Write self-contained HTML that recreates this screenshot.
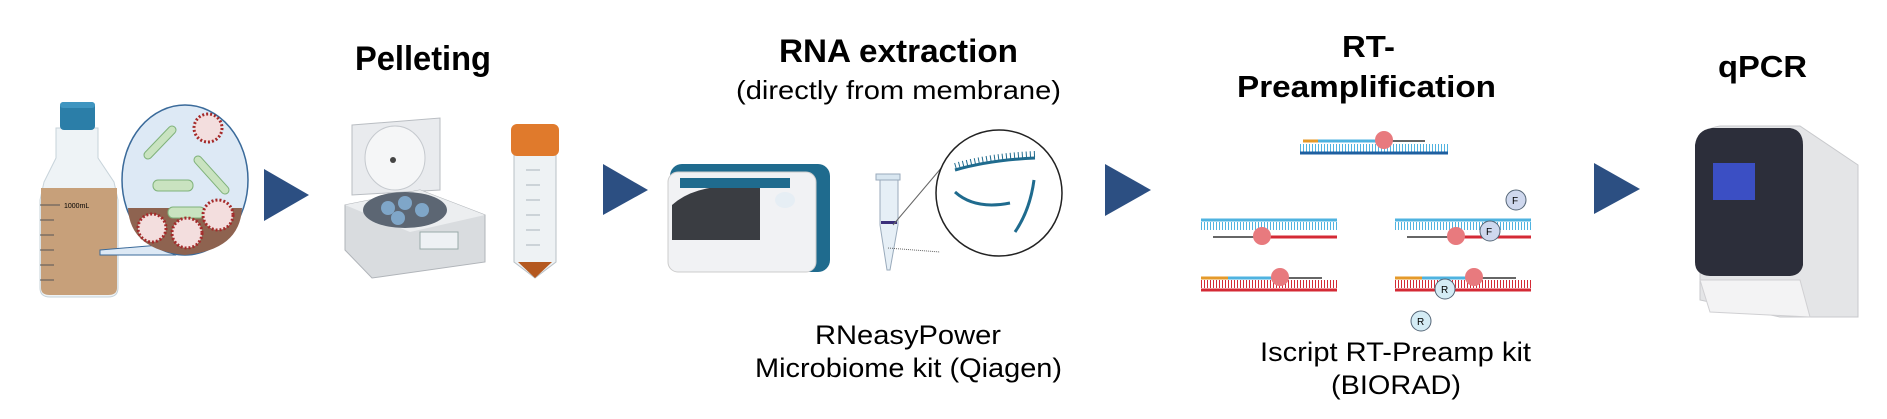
<!DOCTYPE html>
<html><head><meta charset="utf-8"><style>
html,body{margin:0;padding:0;background:#fff;}
svg{display:block;}
text{font-family:"Liberation Sans",sans-serif;fill:#000;}
.b{font-weight:bold;}
</style></head><body>
<svg width="1887" height="419" viewBox="0 0 1887 419">
<g fill="#2c4f82">
<polygon points="264,169 309,195 264,221"/>
<polygon points="603,164 648,190 603,215"/>
<polygon points="1105,164 1151,190 1105,216"/>
<polygon points="1594,163 1640,189 1594,214"/>
</g>
<g>
<path d="M56,128 L98,128 L98,158 L114,182 L118,200 L118,288 Q118,297 108,297 L50,297 Q40,297 40,288 L40,200 L44,182 L56,158 Z" fill="#eef3f6" stroke="#c7d3da"/>
<path d="M41,188 L117,188 L117,288 Q117,295 108,295 L50,295 Q41,295 41,288 Z" fill="#c7a07a"/>
<rect x="60" y="102" width="35" height="28" rx="4" fill="#2b7ea8"/>
<rect x="60" y="102" width="35" height="6" rx="3" fill="#3f95c0"/>
<g stroke="#555" stroke-width="1"><line x1="40" y1="205" x2="60" y2="205"/><line x1="40" y1="220" x2="54" y2="220"/><line x1="40" y1="235" x2="54" y2="235"/><line x1="40" y1="250" x2="54" y2="250"/><line x1="40" y1="265" x2="54" y2="265"/><line x1="40" y1="280" x2="54" y2="280"/></g>
<text x="64" y="208" font-size="7" fill="#333">1000mL</text>
</g>
<g>
<polygon points="100,250 160,245 175,255 100,255" fill="#dde9f5" stroke="#3a6a9a"/>
<ellipse cx="185" cy="180" rx="63" ry="75" fill="#dde9f5" stroke="#3a6a9a" stroke-width="1.5"/>
<path d="M128,208 L242,208 Q240,250 185,255 Q130,250 128,208 Z" fill="#8e6350"/>
<rect x="153" y="180" width="40" height="11" rx="5" fill="#c9e3c0" stroke="#7fb27a"/>
<rect x="168" y="207" width="37" height="11" rx="5" fill="#c9e3c0" stroke="#7fb27a"/>
<line x1="148" y1="155" x2="172" y2="130" stroke="#7fb27a" stroke-width="9" stroke-linecap="round"/>
<line x1="148" y1="155" x2="172" y2="130" stroke="#c9e3c0" stroke-width="7" stroke-linecap="round"/>
<line x1="198" y1="160" x2="225" y2="190" stroke="#7fb27a" stroke-width="9" stroke-linecap="round"/>
<line x1="198" y1="160" x2="225" y2="190" stroke="#c9e3c0" stroke-width="7" stroke-linecap="round"/>
<g fill="#f3dede" stroke="#a52a2a" stroke-width="3" stroke-dasharray="2 2">
<circle cx="208" cy="128" r="14"/><circle cx="152" cy="228" r="14"/><circle cx="218" cy="215" r="15"/><circle cx="187" cy="233" r="15"/>
</g>
</g>
<g>
<path d="M352,125 L440,118 L440,190 L352,195 Z" fill="#e9ebee" stroke="#b9bdc2"/>
<ellipse cx="395" cy="158" rx="30" ry="32" fill="#f5f6f7" stroke="#c5c9ce"/>
<circle cx="393" cy="160" r="3" fill="#444"/>
<path d="M345,205 L420,190 L485,215 L485,262 L372,278 L345,250 Z" fill="#d9dcdf" stroke="#b0b4b9"/>
<path d="M345,205 L420,190 L485,215 L410,232 Z" fill="#eceef0"/>
<ellipse cx="405" cy="210" rx="42" ry="18" fill="#5c6673"/>
<g fill="#7fa6c8"><circle cx="388" cy="208" r="7"/><circle cx="405" cy="203" r="7"/><circle cx="422" cy="210" r="7"/><circle cx="398" cy="218" r="7"/></g>
<rect x="420" y="232" width="38" height="17" fill="#eef1f4" stroke="#9aa"/>
</g>
<g>
<path d="M514,152 L556,152 L556,262 L535,278 L514,262 Z" fill="#eef2f4" stroke="#b8c0c6"/>
<path d="M518,262 L552,262 L535,278 Z" fill="#b4581f"/>
<rect x="511" y="124" width="48" height="32" rx="6" fill="#e07a2c"/>
<g stroke="#aab4bc" stroke-width="1"><line x1="526" y1="170" x2="540" y2="170"/><line x1="526" y1="185" x2="540" y2="185"/><line x1="526" y1="200" x2="540" y2="200"/><line x1="526" y1="215" x2="540" y2="215"/><line x1="526" y1="230" x2="540" y2="230"/><line x1="526" y1="245" x2="540" y2="245"/></g>
</g>
<g>
<rect x="670" y="164" width="160" height="108" rx="12" fill="#1f6b8e"/>
<rect x="668" y="172" width="148" height="100" rx="10" fill="#f1f2f4" stroke="#ccc"/>
<path d="M672,205 Q700,180 760,188 L760,240 L672,240 Z" fill="#3a3d42"/>
<rect x="680" y="178" width="110" height="10" fill="#1f6b8e"/>
<ellipse cx="785" cy="200" rx="10" ry="8" fill="#e6eef4"/>
</g>
<g>
<rect x="876" y="174" width="24" height="6" fill="#d8e6f0" stroke="#9ab"/>
<path d="M880,180 L898,180 L898,225 L890,270 L887,270 L880,225 Z" fill="#e6eff6" stroke="#9ab"/>
<rect x="881" y="221" width="16" height="3" fill="#3a2f7a"/>
<line x1="888" y1="248" x2="940" y2="252" stroke="#666" stroke-dasharray="1 1"/>
<line x1="893" y1="225" x2="948" y2="160" stroke="#666"/>
</g>
<g>
<circle cx="999" cy="193" r="63" fill="#fff" stroke="#222" stroke-width="1.5"/>
<path d="M955,170 Q990,160 1035,158" fill="none" stroke="#1f6b8e" stroke-width="3"/>
<path d="M955,170 Q990,160 1035,158" fill="none" stroke="#1f6b8e" stroke-width="6" stroke-dasharray="1 3" transform="translate(0,-4)"/>
<path d="M955,192 Q975,210 1010,203" fill="none" stroke="#1f6b8e" stroke-width="3"/>
<path d="M1034,180 Q1030,210 1015,232" fill="none" stroke="#1f6b8e" stroke-width="3"/>
</g>
<g>
<g stroke-dasharray="1 2">
<line x1="1300" y1="148" x2="1448" y2="148" stroke="#4fb3e0" stroke-width="8"/>
</g>
<line x1="1300" y1="153" x2="1448" y2="153" stroke="#1e5fa0" stroke-width="3"/>
<line x1="1303" y1="141" x2="1376" y2="141" stroke="#4fb3e0" stroke-width="3"/>
<line x1="1303" y1="141" x2="1318" y2="141" stroke="#e59a2a" stroke-width="3"/>
<line x1="1376" y1="141" x2="1425" y2="141" stroke="#333" stroke-width="1.5"/>
<circle cx="1384" cy="140" r="9" fill="#e87a7e"/>
<g id="dup1">
<line x1="1201" y1="226" x2="1337" y2="226" stroke="#4fb3e0" stroke-width="8" stroke-dasharray="1 2"/>
<line x1="1201" y1="284" x2="1337" y2="284" stroke="#d42a35" stroke-width="8" stroke-dasharray="1 2"/>
<line x1="1201" y1="220" x2="1337" y2="220" stroke="#4fb3e0" stroke-width="3"/>
<line x1="1260" y1="237" x2="1337" y2="237" stroke="#d42a35" stroke-width="3"/>
<line x1="1213" y1="237" x2="1260" y2="237" stroke="#333" stroke-width="1.5"/>
<circle cx="1262" cy="236" r="9" fill="#e87a7e"/>
<line x1="1201" y1="290" x2="1337" y2="290" stroke="#d42a35" stroke-width="3"/>
<line x1="1201" y1="278" x2="1272" y2="278" stroke="#4fb3e0" stroke-width="3"/>
<line x1="1201" y1="278" x2="1228" y2="278" stroke="#e59a2a" stroke-width="3"/>
<line x1="1272" y1="278" x2="1322" y2="278" stroke="#333" stroke-width="1.5"/>
<circle cx="1280" cy="277" r="9" fill="#e87a7e"/>
</g>
<use href="#dup1" x="194"/>
<circle cx="1516" cy="200" r="10" fill="#cfd8ee" stroke="#567"/>
<circle cx="1490" cy="231" r="10" fill="#cfd8ee" stroke="#567"/>
<circle cx="1445" cy="289" r="10" fill="#d4ecf5" stroke="#567"/>
<circle cx="1421" cy="321" r="10" fill="#d4ecf5" stroke="#567"/>
<text x="1512" y="204" font-size="10">F</text><text x="1486" y="235" font-size="10">F</text>
<text x="1441" y="293" font-size="10">R</text><text x="1417" y="325" font-size="10">R</text>
</g>
<g>
<path d="M1700,140 Q1705,128 1720,126 L1800,126 L1858,165 L1858,317 L1780,317 L1700,300 Z" fill="#e4e5e7" stroke="#c8c9cc"/>
<path d="M1695,145 Q1697,130 1712,128 L1790,128 Q1803,130 1803,145 L1803,265 Q1801,275 1790,276 L1710,276 Q1695,275 1695,262 Z" fill="#2c2e3a"/>
<rect x="1713" y="163" width="42" height="37" fill="#3b4fc4"/>
<path d="M1700,280 L1800,280 L1810,317 L1710,312 Z" fill="#f3f3f4" stroke="#d0d0d3"/>
</g>
<text class="b" x="355" y="70" font-size="34" textLength="136" lengthAdjust="spacingAndGlyphs">Pelleting</text>
<text class="b" x="779" y="62" font-size="32" textLength="239" lengthAdjust="spacingAndGlyphs">RNA extraction</text>
<text x="736" y="99" font-size="26" textLength="325" lengthAdjust="spacingAndGlyphs">(directly from membrane)</text>
<text class="b" x="1342" y="57" font-size="31" textLength="53" lengthAdjust="spacingAndGlyphs">RT-</text>
<text class="b" x="1237" y="97" font-size="31" textLength="259" lengthAdjust="spacingAndGlyphs">Preamplification</text>
<text class="b" x="1718" y="77" font-size="31" textLength="89" lengthAdjust="spacingAndGlyphs">qPCR</text>
<text x="815" y="344" font-size="27" textLength="186" lengthAdjust="spacingAndGlyphs">RNeasyPower</text>
<text x="755" y="377" font-size="27" textLength="307" lengthAdjust="spacingAndGlyphs">Microbiome kit (Qiagen)</text>
<text x="1260" y="361" font-size="27" textLength="271" lengthAdjust="spacingAndGlyphs">Iscript RT-Preamp kit</text>
<text x="1331" y="394" font-size="27" textLength="130" lengthAdjust="spacingAndGlyphs">(BIORAD)</text>
</svg>
</body></html>
